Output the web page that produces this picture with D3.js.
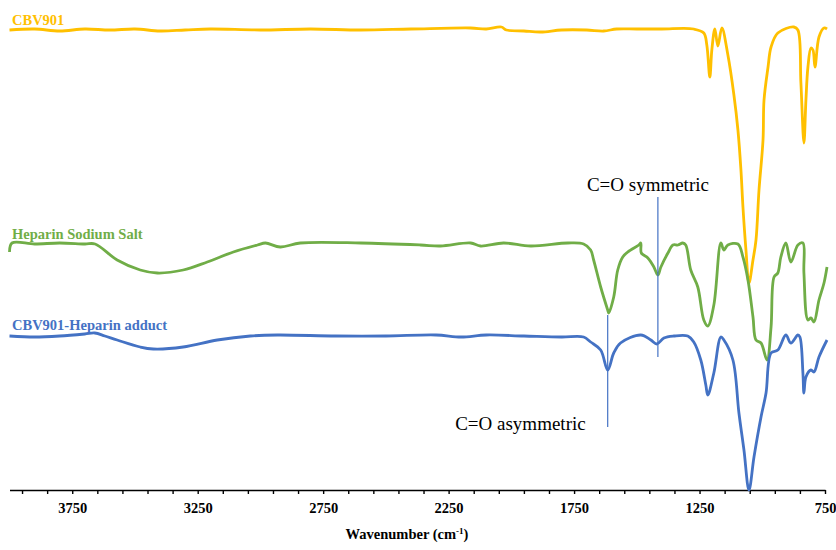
<!DOCTYPE html>
<html>
<head>
<meta charset="utf-8">
<script src="https://cdn.jsdelivr.net/npm/d3@7"></script>
<style>
    body { margin: 0; background: #fff; }
    text { font-family: "Liberation Serif", "Times New Roman", serif; }
</style>
</head>
<body>
<div id="ftir"></div>
<script>
"use strict";

/***** data (wavenumber cm-1, offset transmittance a.u.) *****/

const cbv901 = [
    [4000, 470], [3900, 471], [3800, 469], [3700, 471], [3600, 470], [3500, 471],
    [3400, 469], [3300, 470], [3200, 471], [3000, 470], [2800, 471], [2600, 470],
    [2400, 471], [2162, 472], [2100, 471], [2040, 473], [2020, 470], [1950, 469],
    [1883, 468], [1800, 470], [1700, 470], [1632, 469], [1580, 471], [1500, 471],
    [1400, 471], [1273, 471], [1233, 467], [1221, 455], [1209, 423], [1201, 450],
    [1189, 471], [1177, 454], [1161, 472], [1137, 445], [1113, 405], [1097, 370],
    [1085, 330], [1077, 293], [1065, 250], [1053, 217], [1037, 240], [1025, 260],
    [1013, 310], [997, 360], [993, 400], [977, 433], [965, 453], [938, 467],
    [874, 473], [858, 470], [846, 417], [834, 357], [826, 400], [818, 433],
    [806, 452], [798, 450], [790, 433], [774, 463], [754, 472], [742, 471]
];

const heparin = [
    [4000, 248], [3990, 257], [3900, 256], [3800, 257], [3700, 256], [3659, 256],
    [3571, 240], [3479, 230], [3411, 227], [3308, 230], [3212, 238], [3108, 248],
    [3012, 255], [2980, 257], [2921, 253], [2841, 257], [2600, 257], [2362, 255],
    [2282, 254], [2162, 257], [2123, 254], [2031, 257], [1923, 254], [1775, 257],
    [1712, 256], [1684, 250], [1672, 240], [1644, 213], [1616, 190], [1612, 187],
    [1592, 203], [1576, 230], [1556, 243], [1536, 248], [1492, 255], [1484, 257],
    [1482, 247], [1456, 242], [1432, 233], [1416, 225], [1404, 233], [1376, 247],
    [1356, 255], [1336, 255], [1317, 257], [1305, 255], [1285, 230], [1257, 213],
    [1233, 180], [1217, 174], [1193, 195], [1165, 257], [1153, 250], [1137, 255],
    [1097, 256], [1077, 243], [1057, 220], [1037, 183], [1025, 160], [1005, 157],
    [981, 140], [965, 173], [953, 223], [938, 227], [926, 243], [906, 257],
    [886, 238], [858, 255], [838, 257], [834, 227], [818, 180], [806, 182],
    [794, 178], [774, 200], [754, 217], [742, 233]
];

const adduct = [
    [4000, 164], [3900, 163], [3800, 164], [3700, 166], [3660, 167], [3620, 164],
    [3571, 160], [3479, 153], [3427, 151], [3308, 153], [3172, 160], [3040, 164],
    [2932, 165], [2700, 164], [2500, 164], [2300, 165], [2200, 163], [2100, 165],
    [1950, 164], [1800, 163], [1712, 163], [1684, 158], [1644, 150], [1616, 130],
    [1592, 147], [1565, 157], [1484, 165], [1444, 160], [1420, 156], [1392, 162],
    [1352, 164], [1297, 164], [1273, 158], [1245, 140], [1225, 115], [1217, 105],
    [1193, 127], [1165, 163], [1153, 160], [1117, 140], [1093, 87], [1073, 50],
    [1053, 10], [1033, 43], [1005, 83], [985, 107], [965, 147], [938, 150],
    [906, 165], [886, 157], [858, 165], [850, 163], [838, 127], [834, 107],
    [826, 123], [806, 130], [794, 128], [774, 143], [742, 160]
];

const seriesNames = ["CBV901", "Heparin Sodium Salt", "CBV901-Heparin adduct"];
const seriesData = [cbv901, heparin, adduct];
const seriesColors = ["#FFC000", "#70AD47", "#4472C4"];
const labelLevels = [475, 261, 170];

const tickLabels = [3750, 3250, 2750, 2250, 1750, 1250, 750];
const minorTicks = d3.range(750, 4000, 100);

// annotation: wavenumber, line from / to (a.u.)
const notes = [
    { text: "C=O symmetric", wave: 1416, from: 143, to: 303 },
    { text: "C=O asymmetric", wave: 1616, from: 73, to: 185 }
];


/***** scales *****/

const width = 836,
    height = 550;

const x = d3.scaleLinear().domain([4000, 750]).range([9.5, 825]);
const y = d3.scaleLinear().domain([0, 500]).range([500, 0]);

const svg = d3.select("#ftir")
    .append("svg")
    .attr("width", width)
    .attr("height", height);

const line = d3.line()
    .x(d => x(d[0]))
    .y(d => y(d[1]))
    .curve(d3.curveCatmullRom.alpha(0.5));


/***** axis *****/

const axis = svg.append("g")
    .attr("transform", `translate(0, ${y(10)})`)
    .call(d3.axisBottom(x)
        .tickValues(minorTicks)
        .tickSize(4)
        .tickSizeOuter(0)
        .tickFormat(d => tickLabels.includes(d) ? d : ""));

axis.select(".domain").attr("stroke", "#000").attr("stroke-width", 1.6);
axis.selectAll(".tick line").attr("stroke", "#000").attr("stroke-width", 1.4);
axis.selectAll(".tick text")
    .attr("y", 13)
    .attr("fill", "#000")
    .style("font-family", "'Liberation Serif', 'Times New Roman', serif")
    .style("font-size", "14.5px")
    .style("font-weight", "bold");

const title = svg.append("text")
    .attr("x", 407)
    .attr("y", 539)
    .attr("text-anchor", "middle")
    .style("font-size", "14.5px")
    .style("font-weight", "bold")
    .attr("fill", "#000");
title.append("tspan").text("Wavenumber (cm");
title.append("tspan").text("-1").attr("dy", -5).style("font-size", "9px");
title.append("tspan").text(")").attr("dy", 5);


/***** plot data *****/

svg.selectAll("path.trace")
    .data(seriesData)
    .enter()
    .append("path")
    .classed("trace", true)
    .attr("d", line)
    .attr("fill", "none")
    .attr("stroke", (d, i) => seriesColors[i])
    .attr("stroke-width", 2.8)
    .attr("stroke-linejoin", "round");

svg.selectAll("text.name")
    .data(seriesNames)
    .enter()
    .append("text")
    .classed("name", true)
    .text(d => d)
    .attr("x", 12)
    .attr("y", (d, i) => y(labelLevels[i]))
    .attr("fill", (d, i) => seriesColors[i])
    .style("font-size", "14.5px")
    .style("font-weight", "bold");


/***** annotations *****/

svg.selectAll("line.note")
    .data(notes)
    .enter()
    .append("line")
    .classed("note", true)
    .attr("x1", d => x(d.wave))
    .attr("x2", d => x(d.wave))
    .attr("y1", d => y(d.from))
    .attr("y2", d => y(d.to))
    .attr("stroke", "#4472C4")
    .attr("stroke-width", 1.2);

svg.append("text")
    .text(notes[0].text)
    .attr("x", x(notes[0].wave) - 71)
    .attr("y", y(309))
    .attr("fill", "#000")
    .style("font-size", "19px");

svg.append("text")
    .text(notes[1].text)
    .attr("x", x(notes[1].wave) - 22)
    .attr("y", y(70))
    .attr("text-anchor", "end")
    .attr("fill", "#000")
    .style("font-size", "19px");
</script>
</body>
</html>
